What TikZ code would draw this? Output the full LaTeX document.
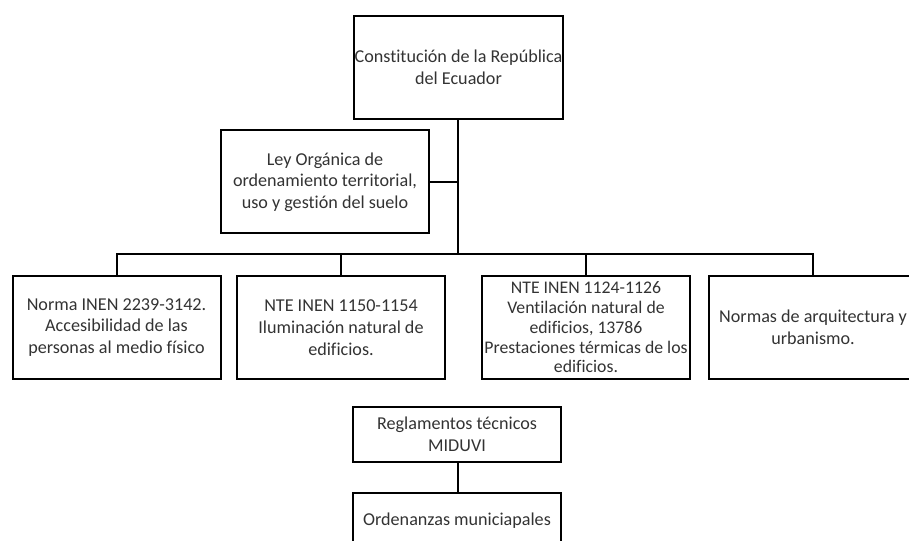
\documentclass[tikz,border=0pt]{standalone}
\usepackage{fontspec}
\setmainfont{Carlito}[Ligatures=CommonOff]
\begin{document}
\begin{tikzpicture}[x=0.75pt,y=-0.75pt,
  box/.style={draw=black,line width=1.5pt,inner sep=0pt,minimum width=156pt,align=center,text=black!80,font=\fontsize{13.6}{16.3}\selectfont},
  tall/.style={box,minimum height=77.25pt},
  short/.style={box,minimum height=41.25pt},
  link/.style={draw=black,line width=1.5pt}]
\useasboundingbox (0,0) rectangle (909,541);
\clip (0,0) rectangle (909,541);
\fill[white] (0,0) rectangle (909,541);
\node[tall,minimum width=156.75pt] (top) at (458.5,67.5) {Constitución de la República\\del Ecuador};
\node[tall] (ley) at (325,182) {Ley Orgánica de\\ordenamiento territorial,\\uso y gestión del suelo};
\node[tall] (b1) at (116.5,327.5) {Norma INEN 2239-3142.\\Accesibilidad de las\\personas al medio físico};
\node[tall] (b2) at (341,327.5) {NTE INEN 1150-1154\\Iluminación natural de\\edificios.};
\node[tall,font=\fontsize{13.3}{14.8}\selectfont] (b3) at (586,327.5) {NTE INEN 1124-1126\\Ventilación natural de\\edificios, 13786\\Prestaciones térmicas de los\\edificios.};
\node[tall] (b4) at (813,327.5) {Normas de arquitectura y\\urbanismo.};
\node[short] (mid) at (457,434.5) {Reglamentos técnicos\\MIDUVI};
\node[short] (ord) at (457,520.5) {Ordenanzas municiapales};
\coordinate (j) at (458,254);
\draw[link] (top.south -| j) -- (j);
\draw[link] (ley.east) -- (ley.east -| j);
\draw[link] (b1.north) |- (b4.north |- j) -- (b4.north);
\draw[link] (b2.north) -- (b2.north |- j);
\draw[link] (b3.north) -- (b3.north |- j);
\draw[link] (mid.south -| j) -- (ord.north -| j);
\end{tikzpicture}
\end{document}
